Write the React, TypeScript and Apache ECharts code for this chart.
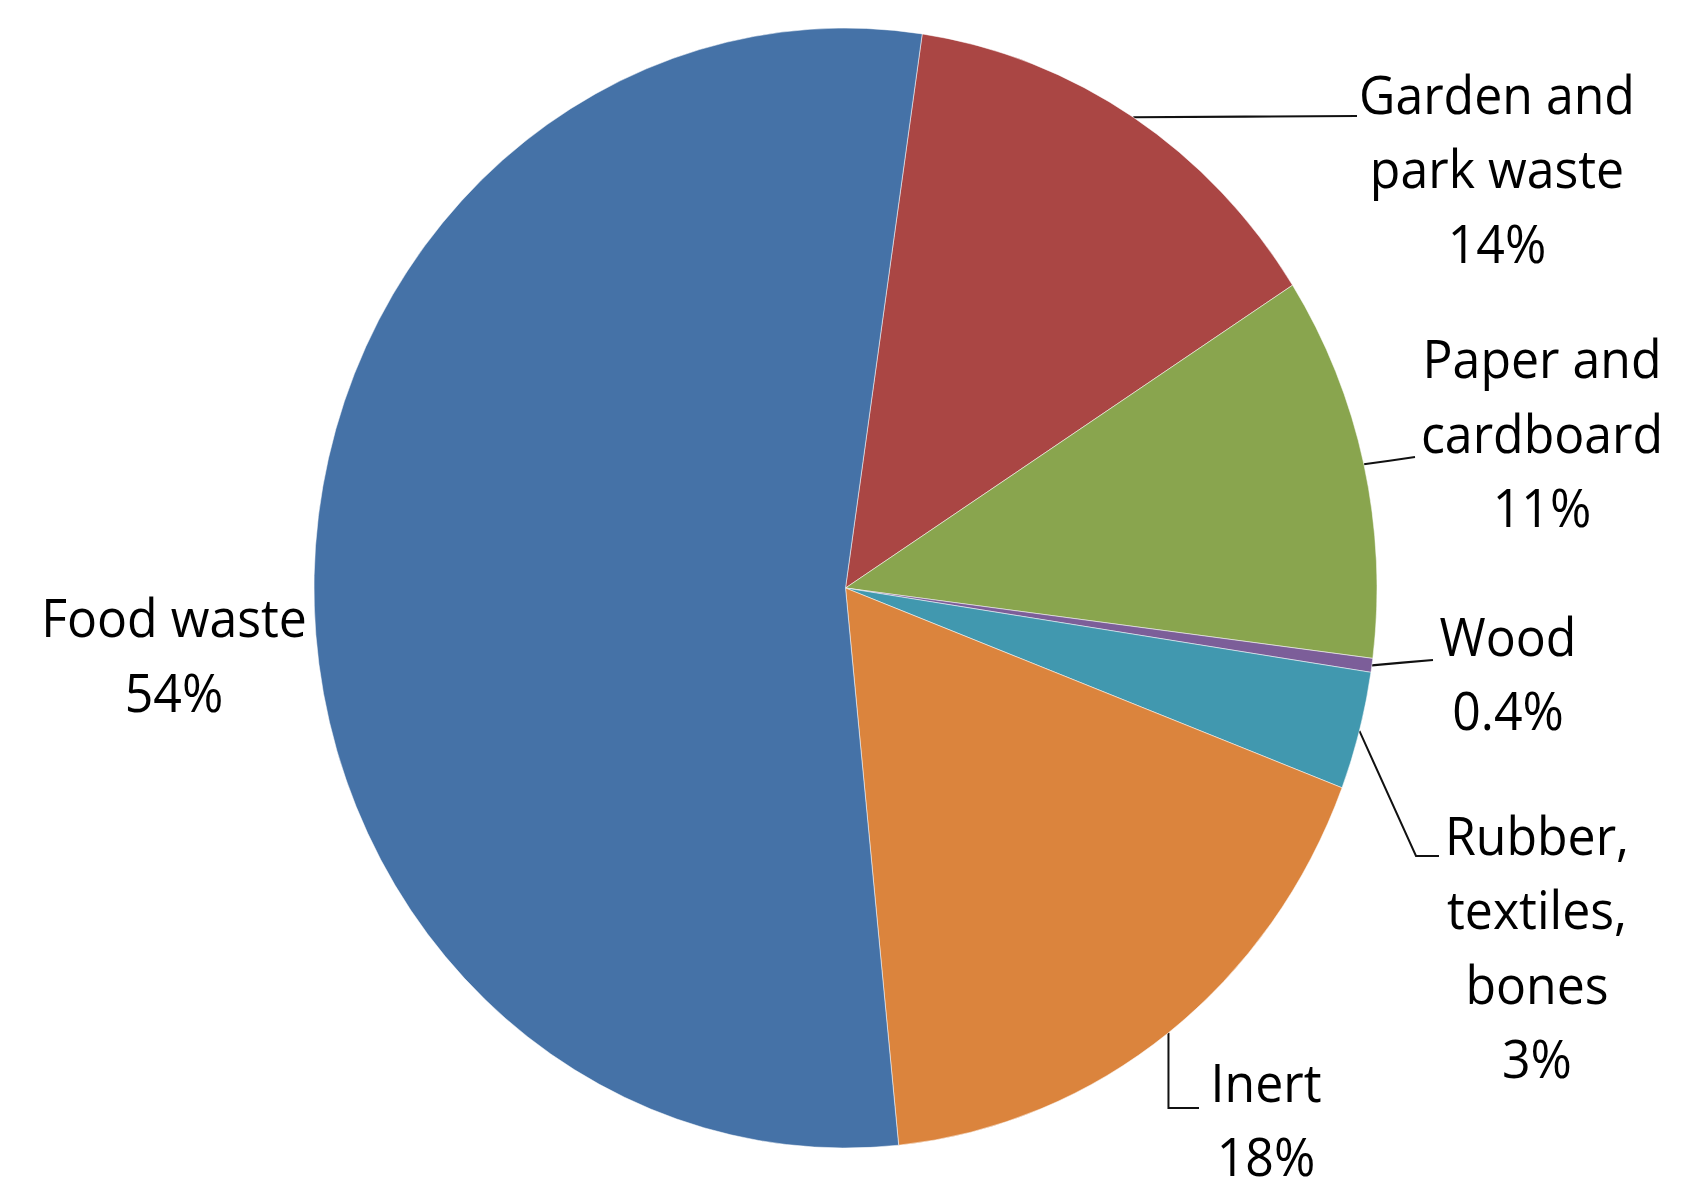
import React, { useEffect, useRef } from "react";
import * as echarts from "echarts";

// ---- data ----
const categories = [
  "Garden and\npark waste",
  "Paper and\ncardboard",
  "Wood",
  "Rubber,\ntextiles,\nbones",
  "Inert",
  "Food waste",
];
const shares = [13.6, 11.1, 0.4, 3.4, 17.6, 53.9];
const colors = ["#AA4644", "#89A54E", "#7C5E99", "#4198AF", "#DB843D", "#4572A7"];

// ---- layout (unscaled chart pixels) ----
const STRETCH = 1.0536;
const W = 1691;
const H = 1124;
const PIE_CENTER = [845.5, 558.1];
const PIE_RADIUS = 531.5;
const START_ANGLE = 81.7;
// label block centre [x, y]
const labelAnchors = [
  [1497, 159.4],
  [1542, 410.4],
  [1508, 638.2],
  [1537, 897.8],
  [1266, 1061.5],
  [174, 620.6],
];
const leaderEnds: (number[] | null)[] = [
  [1357, 110.1],
  [1415, 433.8],
  [1433, 626.4],
  [1439, 812.5],
  [1199, 1051.6],
  null,
];
const leaderElbows: (number[] | string | null)[] = [null, null, null, [1416, 812.5], "v", null];

function fmtPct(v: number) {
  return v < 1 ? v.toFixed(1) + "%" : Math.round(v) + "%";
}

export default function App() {
  const ref = useRef<HTMLDivElement>(null);
  useEffect(() => {
    if (!ref.current) return;
    const chart = echarts.init(ref.current, undefined, { renderer: "svg" });
    const data = categories.map((name, i) => ({
      name,
      value: shares[i],
      itemStyle: { color: colors[i] },
      labelLine: { show: leaderEnds[i] !== null },
    }));
    chart.setOption({
      animation: false,
      backgroundColor: "#ffffff",
      series: [
        {
          type: "pie",
          center: PIE_CENTER,
          radius: PIE_RADIUS,
          startAngle: START_ANGLE,
          clockwise: true,
          avoidLabelOverlap: false,
          itemStyle: { borderColor: "#ffffff", borderWidth: 0.5 },
          label: {
            show: true,
            position: "outside",
            formatter: (p: any) => p.name + "\n" + fmtPct(p.value),
            fontFamily: "Open Sans",
            fontSize: 50,
            lineHeight: 70.7,
            color: "#000000",
            align: "center",
          },
          labelLine: {
            show: true,
            lineStyle: { color: "#111111", width: 2 },
          },
          labelLayout: (params: any) => {
            const i = params.dataIndex;
            const a = labelAnchors[i];
            const out: any = { x: a[0], y: a[1], align: "center", verticalAlign: "middle" };
            const end = leaderEnds[i];
            const pts = params.labelLinePoints;
            if (end && pts && pts.length) {
              const s = pts[0];
              const el = leaderElbows[i];
              let mid: number[];
              if (el === "v") mid = [s[0], end[1]];
              else if (Array.isArray(el)) mid = el;
              else mid = [(s[0] + end[0]) / 2, (s[1] + end[1]) / 2];
              out.labelLinePoints = [s, mid, end];
            }
            return out;
          },
          data,
        },
      ],
    });
    return () => chart.dispose();
  }, []);
  return (
    <div
      ref={ref}
      style={{
        position: "fixed",
        left: 0,
        top: 0,
        width: W,
        height: H,
        transform: `scaleY(${STRETCH})`,
        transformOrigin: "0 0",
        background: "#fff",
      }}
    />
  );
}
